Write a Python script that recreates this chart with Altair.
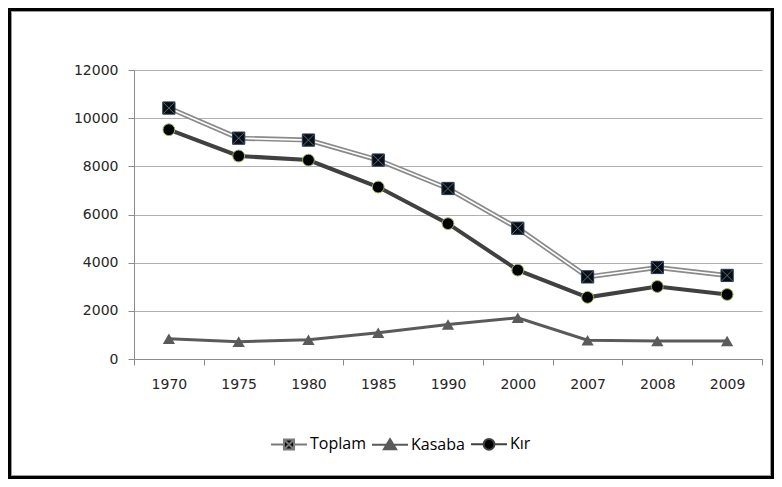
import altair as alt
import pandas as pd

years = ["1970", "1975", "1980", "1985", "1990", "2000", "2007", "2008", "2009"]
toplam = [10420, 9170, 9090, 8260, 7080, 5430, 3410, 3800, 3470]
kasaba = [840, 720, 800, 1090, 1430, 1710, 780, 750, 750]
kir = [9520, 8430, 8260, 7140, 5620, 3690, 2560, 3010, 2680]
series_names = ["Toplam", "Kasaba", "Kır"]

rows = []
for name, vals in zip(series_names, [toplam, kasaba, kir]):
    for y, v in zip(years, vals):
        rows.append({"year": y, "value": v, "series": name})
df = pd.DataFrame(rows)

W, H = 628, 289

x_enc = alt.X("year:N", sort=years,
              scale=alt.Scale(paddingInner=0, paddingOuter=0),
              axis=alt.Axis(title=None, labelAngle=0, tickBand="extent",
                            domainColor="#8c8c8c", tickColor="#8c8c8c",
                            tickSize=6, labelPadding=12, grid=False,
                            labelFont="DejaVu Sans", labelFontSize=14,
                            labelColor="#262626"))
y_enc = alt.Y("value:Q", scale=alt.Scale(domain=[0, 12000], nice=False),
              axis=alt.Axis(title=None, values=list(range(0, 12001, 2000)),
                            format="d",
                            grid=True, gridColor="#b0b0b0",
                            domainColor="#8c8c8c", tickColor="#8c8c8c",
                            tickSize=6, labelPadding=10,
                            labelFont="DejaVu Sans", labelFontSize=14,
                            labelColor="#262626"))

base = alt.Chart(df).encode(x=x_enc, y=y_enc)

def sel(name):
    return base.transform_filter(alt.datum.series == name)

kas_line = sel("Kasaba").mark_line(color="#5a5a5a", strokeWidth=3)
kas_pts = sel("Kasaba").mark_point(shape="triangle-up", filled=True,
                                   color="#5a5a5a", size=150, opacity=1)
kir_line = sel("Kır").mark_line(color="#404040", strokeWidth=4)
kir_pts = sel("Kır").mark_point(shape="circle", filled=True, fill="#000000",
                                stroke="#9bbb59", strokeWidth=1, size=140,
                                opacity=1)
top_line_outer = sel("Toplam").mark_line(color="#8a8a8a", strokeWidth=5)
top_line_inner = sel("Toplam").mark_line(color="#ffffff", strokeWidth=1.6)
top_sq = sel("Toplam").mark_point(shape="square", filled=True, fill="#0d0d0d",
                                  stroke="#243a55", strokeWidth=1, size=150,
                                  opacity=1)
top_x = sel("Toplam").mark_point(shape="M-1,-1L1,1M-1,1L1,-1", filled=False,
                                 stroke="#4a6d96", strokeWidth=1, size=130,
                                 opacity=1)

leg_paths = [
    "M-1,0H-0.3M0.3,0H1M-0.28,-0.28H0.28V0.28H-0.28ZM-0.28,-0.28L0.28,0.28M-0.28,0.28L0.28,-0.28",
    "M-1,0H1M0,-0.32L0.34,0.24H-0.34Z",
    "M-1,0H-0.3M0.3,0H1M0.3,0A0.3,0.3 0 1,1 -0.3,0A0.3,0.3 0 1,1 0.3,0Z",
]
leg = alt.Legend(title=None, orient="none", direction="horizontal",
                 legendX=136, legendY=355, columnPadding=2, labelOffset=2,
                 labelFont="Open Sans", labelFontSize=16, labelColor="#000000",
                 symbolStrokeWidth=2, symbolSize=1296, padding=0)
legend_layer = alt.Chart(df).transform_filter("false").mark_point(
    size=1296, opacity=1, filled=True
).encode(
    x=alt.X("year:N", sort=years),
    y=alt.Y("value:Q"),
    shape=alt.Shape("series:N", scale=alt.Scale(domain=series_names, range=leg_paths), legend=leg),
    fill=alt.Fill("series:N", scale=alt.Scale(domain=series_names, range=["#0d0d0d", "#5a5a5a", "#000000"]), legend=leg),
    stroke=alt.Stroke("series:N", scale=alt.Scale(domain=series_names, range=["#7a7a7a", "#5a5a5a", "#404040"]), legend=leg),
)

frame = alt.Chart(df).mark_rect(fill=None, stroke="#000000", strokeWidth=3).encode(
    x=alt.value(-124.5), x2=alt.value(638.5), y=alt.value(-60.5), y2=alt.value(407.5)
)
frame_inner = alt.Chart(df).mark_rect(fill=None, stroke="#9a9a9a", strokeWidth=1).encode(
    x=alt.value(-122.5), x2=alt.value(636.5), y=alt.value(-58.5), y2=alt.value(405.5)
)

chart = alt.layer(
    kas_line, kas_pts, kir_line, kir_pts,
    top_line_outer, top_line_inner, top_sq, top_x,
    legend_layer, frame_inner, frame
).properties(
    width=W, height=H,
    autosize=alt.AutoSizeParams(type="none"),
    padding={"left": 126, "top": 62, "right": 12, "bottom": 120},
    background="#ffffff"
).configure_view(stroke=None)

chart.save("out.html", embed_options={"renderer": "svg", "actions": False})
